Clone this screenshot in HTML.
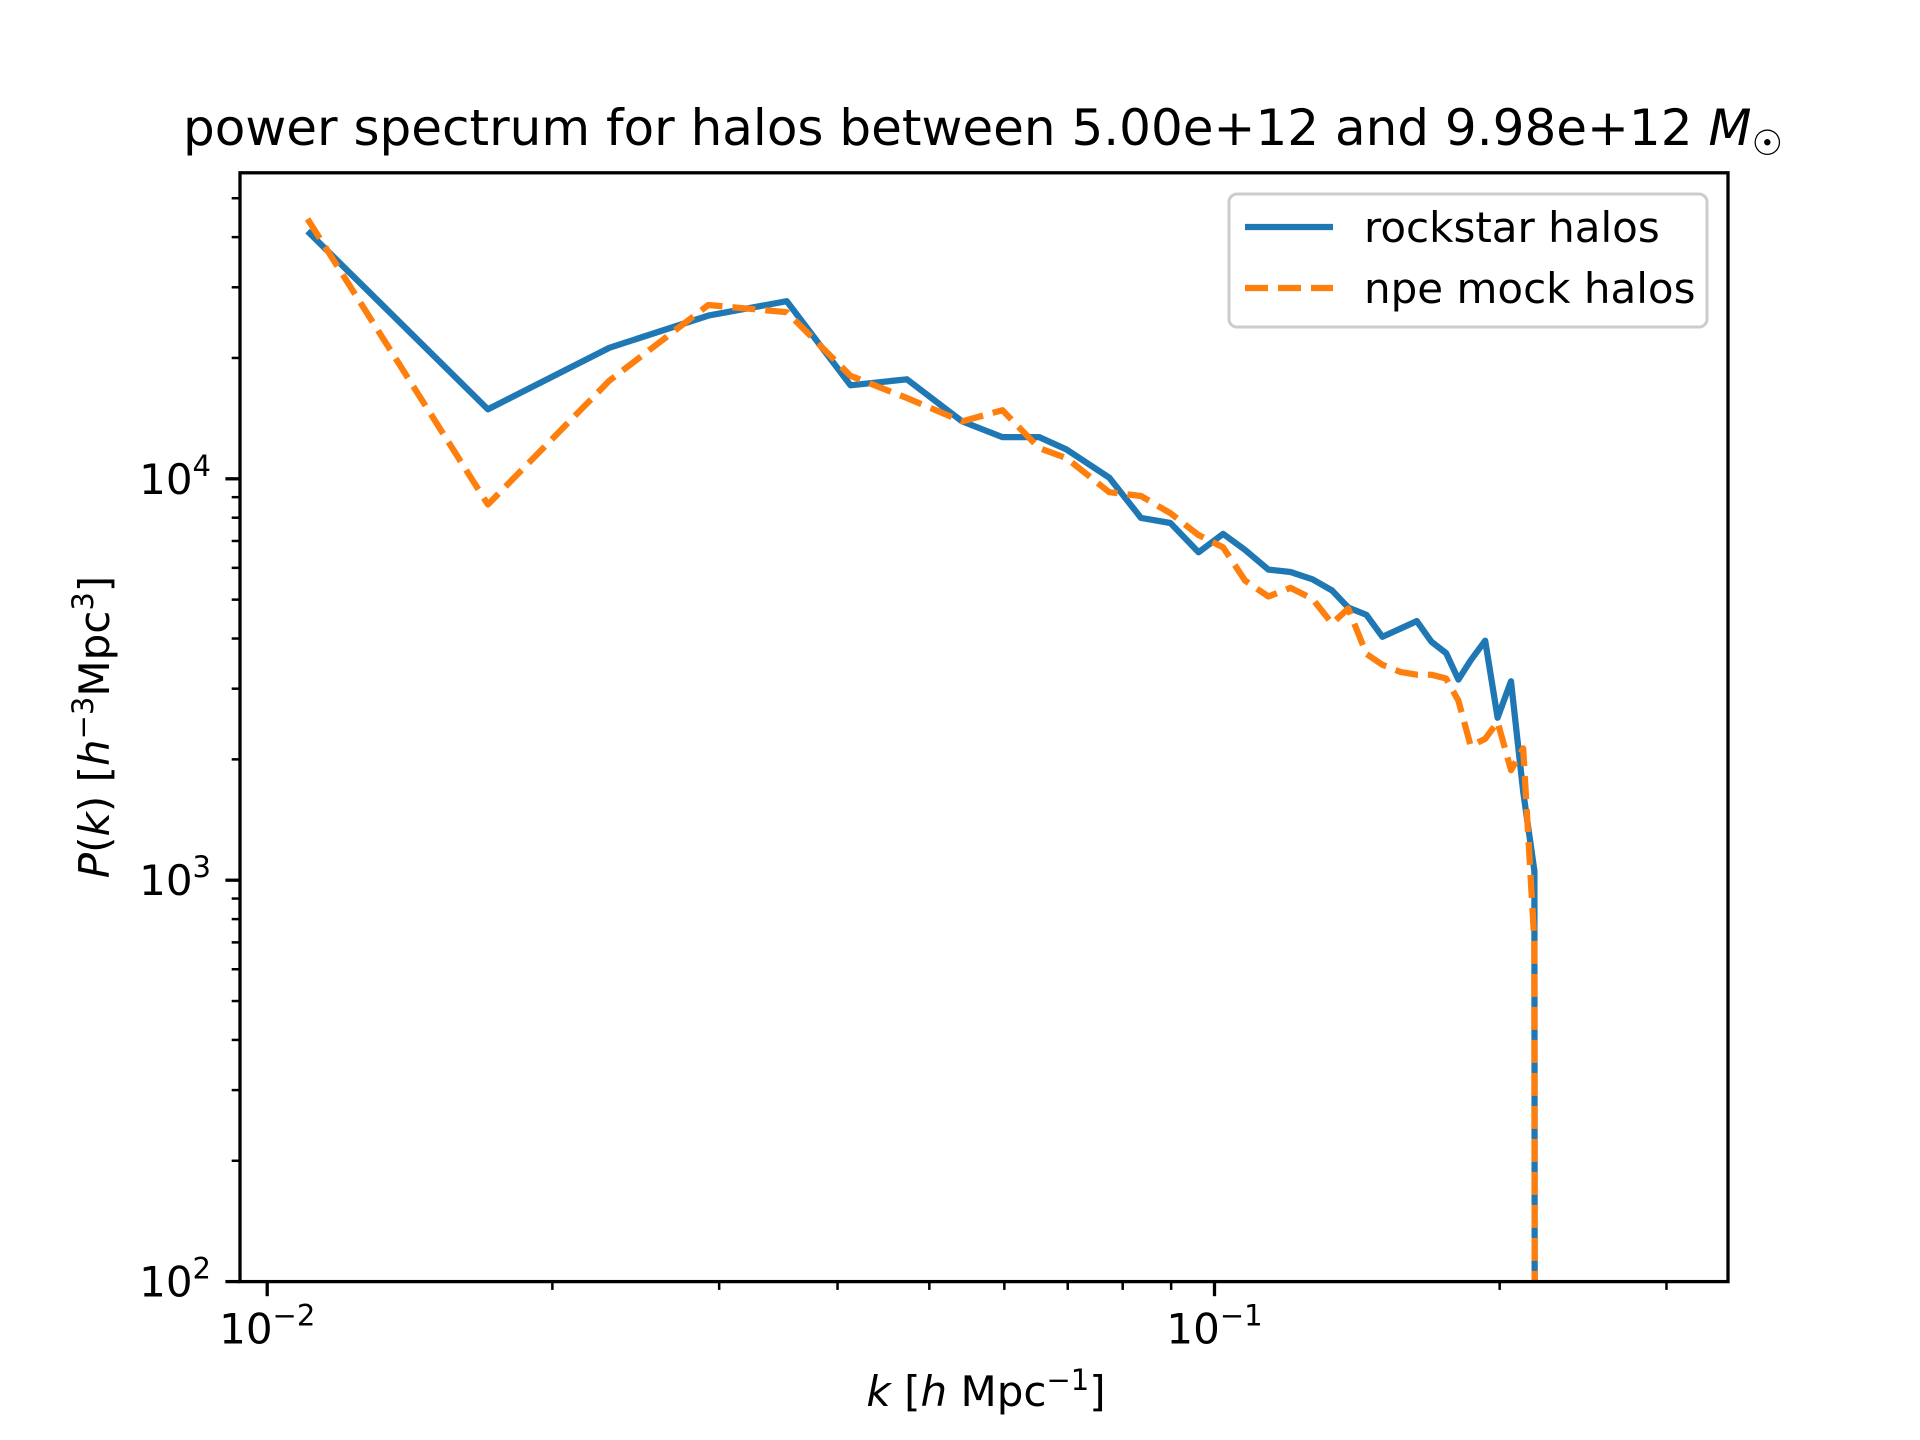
<!DOCTYPE html>
<html><head><meta charset="utf-8"><style>
html,body{margin:0;padding:0;background:#fff;overflow:hidden;width:1920px;height:1440px;}
svg{display:block;}
svg text{font-family:"DejaVu Sans","Liberation Sans",sans-serif;fill:#000;}
</style></head><body>
<svg id="chart" width="1920" height="1440" viewBox="0 0 1920 1440" xmlns="http://www.w3.org/2000/svg">
<rect width="1920" height="1440" fill="#fff"/>
<g id="plot"></g>
<text x="983" y="145" font-size="50" text-anchor="middle">power spectrum for halos between 5.00e+12 and 9.98e+12 <tspan font-style="italic">M</tspan><tspan font-size="35" dy="10">☉</tspan></text>
<text x="986" y="1406" font-size="42" text-anchor="middle"><tspan font-style="italic">k</tspan> [<tspan font-style="italic">h</tspan> Mpc<tspan font-size="29" dy="-16">−1</tspan><tspan dy="16">]</tspan></text>
<text transform="translate(109,727) rotate(-90)" font-size="42" text-anchor="middle"><tspan font-style="italic">P</tspan>(<tspan font-style="italic">k</tspan>) [<tspan font-style="italic">h</tspan><tspan font-size="29" dy="-16">−3</tspan><tspan dy="16">Mpc</tspan><tspan font-size="29" dy="-16">3</tspan><tspan dy="16">]</tspan></text>
<g>
<rect x="1229" y="194" width="478" height="133" rx="8" fill="#fff" fill-opacity="0.8" stroke="#ccc" stroke-width="3"/>
<line x1="1245" y1="227" x2="1333" y2="227" stroke="#1f77b4" stroke-width="6.25"/>
<text x="1364" y="242" font-size="42">rockstar halos</text>
<line x1="1245" y1="288" x2="1333" y2="288" stroke="#ff7f0e" stroke-width="6.25" stroke-dasharray="23,10"/>
<text x="1364" y="303" font-size="42">npe mock halos</text>
</g>
</svg>
<script>
const kVals=[0.01103,0.0171,0.02297,0.02922,0.03536,0.04128,0.04735,0.05414,0.05972,0.06531,0.06976,0.07741,0.08363,0.08983,0.0962,0.1021,0.1077,0.1140,0.1203,0.1269,0.1331,0.1384,0.1447,0.1504,0.1573,0.1635,0.1694,0.1756,0.1809,0.1864,0.1931,0.1990,0.2056,0.2118,0.2176,0.2178];
const rockstar=[41400,14900,21200,25500,27700,17100,17700,13900,12700,12700,11840,10070,7990,7760,6560,7290,6650,5940,5860,5620,5270,4780,4580,4040,4240,4420,3930,3680,3160,3530,3950,2540,3130,1660,1055,70];
const npe=[44400,8630,17550,27100,26000,18060,15900,13900,14820,11920,11270,9260,9060,8210,7240,6750,5580,5090,5350,5020,4360,4750,3660,3440,3300,3250,3250,3180,2800,2160,2250,2480,1880,2130,700,70];
const xTicks=[0.01,0.1];
const xTickLabels=["−2","−1"];
const yTicks=[100,1000,10000];
const yTickLabels=["2","3","4"];
const L=240,R=1728,T=172.8,B=1281.6;
const X0=267.2,DX=947.3;
const YB=1281.6,DY=401.4;
function xs(k){return X0+(Math.log10(k)+2)*DX;}
function ys(p){return YB-(Math.log10(p)-2)*DY;}
const NS="http://www.w3.org/2000/svg";
const g=document.getElementById('plot');
function mk(t,a){const e=document.createElementNS(NS,t);for(const n in a)e.setAttribute(n,a[n]);return e;}
const clip=mk('clipPath',{id:'clip'});clip.appendChild(mk('rect',{x:L,y:T,width:R-L,height:B-T}));g.appendChild(clip);
function series(vals,color,dash,name){
  const pts=kVals.map((k,i)=>xs(k).toFixed(1)+','+ys(vals[i]).toFixed(1)).join(' ');
  const p=mk('polyline',{points:pts,fill:'none',stroke:color,'stroke-width':6.25,'stroke-linejoin':'round','clip-path':'url(#clip)'});
  if(dash)p.setAttribute('stroke-dasharray',dash);
  
  
  g.appendChild(p);
}
series(rockstar,'#1f77b4',null,'rockstar-line');
series(npe,'#ff7f0e','23,10','npe-line');
const frame=mk('rect',{x:L,y:T,width:R-L,height:B-T,fill:'none',stroke:'#000','stroke-width':3.3});


g.appendChild(frame);
xTicks.forEach((k,i)=>{
  const x=xs(k);
  const t=mk('line',{x1:x,y1:B,x2:x,y2:B+14.6,stroke:'#000','stroke-width':3.3});
  
  
  g.appendChild(t);
  const tx=mk('text',{x:x,y:B+62,'font-size':42,'text-anchor':'middle'});
  
  
  tx.innerHTML='10<tspan font-size="29" dy="-18">'+xTickLabels[i]+'</tspan>';
  g.appendChild(tx);
});
for(let d=-2;d<=-1;d++){for(let m=2;m<=9;m++){const k=m*Math.pow(10,d);const x=xs(k);if(x>R)continue;
  const t=mk('line',{x1:x,y1:B,x2:x,y2:B+8.3,stroke:'#000','stroke-width':2.5});
  
  
  g.appendChild(t);}}
yTicks.forEach((p,i)=>{
  const y=ys(p);
  const t=mk('line',{x1:L,y1:y,x2:L-14.6,y2:y,stroke:'#000','stroke-width':3.3});
  
  
  g.appendChild(t);
  const tx=mk('text',{x:211,y:y+15,'font-size':42,'text-anchor':'end'});
  
  
  tx.innerHTML='10<tspan font-size="29" dy="-18">'+yTickLabels[i]+'</tspan>';
  g.appendChild(tx);
});
for(let d=2;d<=4;d++){for(let m=2;m<=9;m++){const p=m*Math.pow(10,d);const y=ys(p);if(y<T)continue;
  const t=mk('line',{x1:L,y1:y,x2:L-8.3,y2:y,stroke:'#000','stroke-width':2.5});
  
  
  g.appendChild(t);}}
</script>
</body></html>
